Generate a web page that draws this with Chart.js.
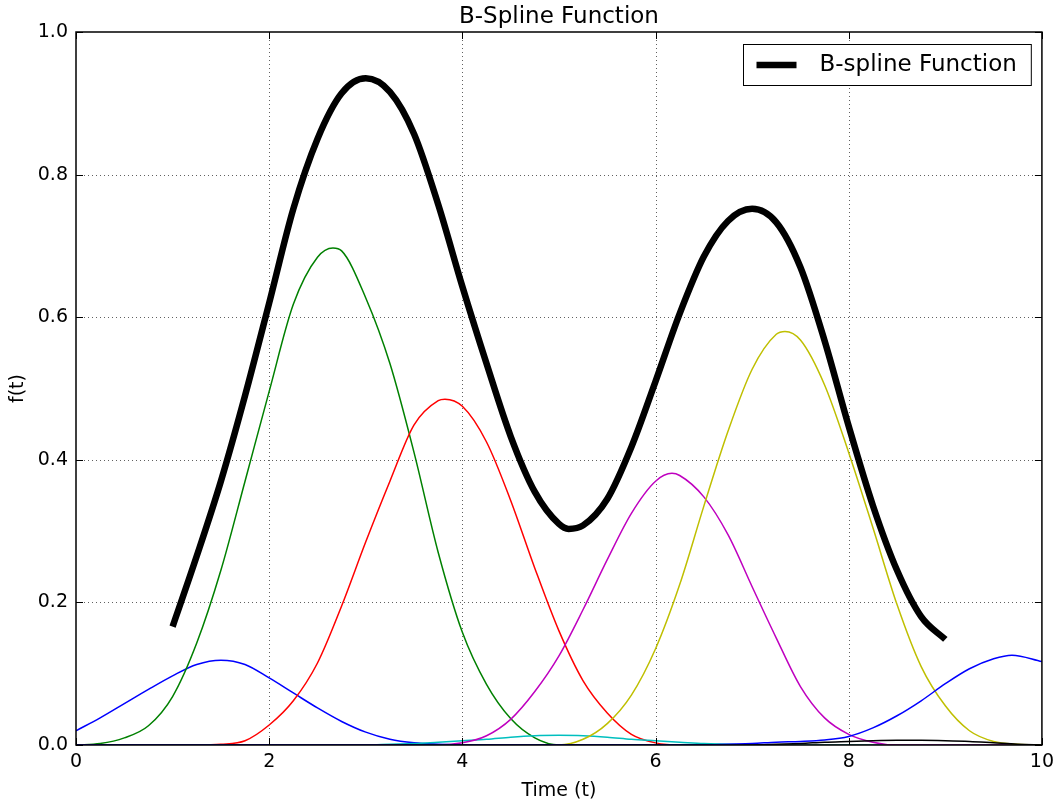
<!DOCTYPE html>
<html>
<head>
<meta charset="utf-8">
<title>B-Spline Function</title>
<script src="https://cdn.jsdelivr.net/npm/chart.js@4.4.1/dist/chart.umd.min.js"></script>
<style>
  html, body { margin: 0; padding: 0; background: #ffffff; }
  canvas { display: block; }
</style>
</head>
<body>
<canvas id="chart" width="1060" height="808"></canvas>
<script>
// Weighted basis functions: sample times and values for each curve
const blueATime = [0, 0.25, 0.5, 0.75, 1, 1.25, 1.5, 1.75, 2, 2.25, 2.5, 2.75, 3, 3.25, 3.5, 3.75, 4, 10];
const blueAValues = [0.020, 0.038, 0.058, 0.078, 0.097, 0.113, 0.119, 0.113, 0.094, 0.073, 0.052, 0.033, 0.018, 0.008, 0.003, 0.001, 0, 0];

const greenTime = [0, 0.25, 0.5, 0.75, 1, 1.25, 1.5, 1.75, 2, 2.25, 2.5, 2.66, 2.75, 3, 3.25, 3.5, 3.75, 4, 4.25, 4.5, 4.75, 5, 10];
const greenValues = [0, 0.002, 0.010, 0.027, 0.068, 0.143, 0.245, 0.370, 0.496, 0.618, 0.684, 0.697, 0.693, 0.627, 0.535, 0.410, 0.270, 0.158, 0.085, 0.037, 0.010, 0, 0];

const redTime = [0, 1.25, 1.5, 1.75, 2, 2.25, 2.5, 2.75, 3, 3.25, 3.5, 3.75, 3.82, 4, 4.25, 4.5, 4.75, 5, 5.25, 5.5, 5.75, 6, 6.25, 10];
const redValues = [0, 0, 0.001, 0.006, 0.028, 0.062, 0.115, 0.195, 0.285, 0.370, 0.449, 0.483, 0.485, 0.475, 0.425, 0.343, 0.248, 0.160, 0.090, 0.045, 0.015, 0.003, 0, 0];

const cyanTime = [0, 3, 3.25, 3.5, 3.75, 4, 4.25, 4.5, 4.75, 5, 5.25, 5.5, 5.75, 6, 6.25, 6.5, 6.75, 7, 10];
const cyanValues = [0, 0, 0.001, 0.002, 0.004, 0.006, 0.008, 0.011, 0.013, 0.0135, 0.013, 0.011, 0.008, 0.006, 0.004, 0.002, 0.001, 0, 0];

const magentaTime = [0, 3.75, 4, 4.25, 4.5, 4.75, 5, 5.25, 5.5, 5.75, 6, 6.17, 6.25, 6.5, 6.75, 7, 7.25, 7.5, 7.75, 8, 8.25, 8.5, 10];
const magentaValues = [0, 0, 0.003, 0.013, 0.036, 0.075, 0.125, 0.190, 0.260, 0.325, 0.370, 0.381, 0.378, 0.348, 0.295, 0.222, 0.150, 0.082, 0.038, 0.015, 0.004, 0, 0];

const yellowTime = [0, 5, 5.25, 5.5, 5.75, 6, 6.25, 6.5, 6.75, 7, 7.25, 7.34, 7.5, 7.75, 8, 8.25, 8.5, 8.75, 9, 9.25, 9.5, 9.75, 10];
const yellowValues = [0, 0, 0.008, 0.030, 0.070, 0.135, 0.225, 0.335, 0.440, 0.527, 0.576, 0.580, 0.568, 0.505, 0.410, 0.305, 0.197, 0.110, 0.055, 0.020, 0.005, 0.001, 0];

const blackTime = [0, 7, 7.25, 7.5, 7.75, 8, 8.25, 8.5, 8.75, 9, 9.25, 9.5, 9.75, 10];
const blackValues = [0, 0, 0.001, 0.002, 0.004, 0.005, 0.006, 0.0065, 0.0065, 0.006, 0.005, 0.003, 0.001, 0];

const blueBTime = [0, 6.5, 6.75, 7, 7.25, 7.5, 7.75, 8, 8.25, 8.5, 8.75, 9, 9.25, 9.5, 9.69, 10];
const blueBValues = [0, 0, 0.001, 0.002, 0.004, 0.005, 0.007, 0.012, 0.024, 0.041, 0.062, 0.086, 0.107, 0.121, 0.126, 0.117];

// Summed spline, evaluated on [1, 9]
const splineTime = [1, 1.25, 1.5, 1.75, 2, 2.25, 2.5, 2.75, 3, 3.25, 3.5, 3.75, 4, 4.25, 4.5, 4.75,
  5, 5.1, 5.25, 5.5, 5.75, 6, 6.25, 6.5, 6.75, 7, 7.25, 7.5, 7.75, 8, 8.25, 8.5, 8.75, 9];
const splineValues = [0.166, 0.265, 0.370, 0.490, 0.620, 0.752, 0.850, 0.914, 0.935, 0.916, 0.857, 0.758,
  0.643, 0.535, 0.433, 0.355, 0.310, 0.303, 0.308, 0.345, 0.418, 0.510, 0.605, 0.685, 0.735, 0.752, 0.733,
  0.670, 0.567, 0.447, 0.336, 0.245, 0.180, 0.148];

// Axis ticks
const xTickValues = [0, 2, 4, 6, 8, 10];
const yTickValues = [0, 0.2, 0.4, 0.6, 0.8, 1.0];

const FONT_FAMILY = '"DejaVu Sans", "Liberation Sans", sans-serif';
const TITLE_TEXT = 'B-Spline Function';

function points(xs, ys) {
  return xs.map((t, i) => ({ x: t, y: ys[i] }));
}

function basisSet(times, values, color) {
  return {
    data: points(times, values),
    borderColor: color,
    borderWidth: 1.5,
    pointRadius: 0,
    cubicInterpolationMode: 'monotone',
    fill: false
  };
}

// Title over the axes, frame, dotted grid, inward ticks and the boxed legend
const axesDecor = {
  id: 'axesDecor',
  beforeDatasetsDraw(chart) {
    const { ctx, chartArea: a, scales: { x, y } } = chart;
    ctx.save();
    ctx.strokeStyle = 'rgba(0,0,0,0.62)';
    ctx.lineWidth = 1;
    ctx.setLineDash([1, 3]);
    xTickValues.forEach(v => {
      if (v <= x.min || v >= x.max) return;
      const px = Math.round(x.getPixelForValue(v)) + 0.5;
      ctx.beginPath(); ctx.moveTo(px, a.top); ctx.lineTo(px, a.bottom); ctx.stroke();
    });
    yTickValues.forEach(v => {
      if (v <= y.min || v >= y.max) return;
      const py = Math.round(y.getPixelForValue(v)) + 0.5;
      ctx.beginPath(); ctx.moveTo(a.left, py); ctx.lineTo(a.right, py); ctx.stroke();
    });
    ctx.restore();
  },
  afterDatasetsDraw(chart) {
    const { ctx, chartArea: a, scales: { x, y } } = chart;
    ctx.save();
    ctx.strokeStyle = '#000000';
    ctx.setLineDash([]);
    // spines
    ctx.lineWidth = 1.5;
    ctx.strokeRect(a.left, a.top, a.right - a.left, a.bottom - a.top);
    // inward tick marks on all four sides
    const len = 7;
    ctx.lineWidth = 1;
    xTickValues.forEach(v => {
      const px = Math.round(x.getPixelForValue(v)) + 0.5;
      ctx.beginPath(); ctx.moveTo(px, a.bottom); ctx.lineTo(px, a.bottom - len); ctx.stroke();
      ctx.beginPath(); ctx.moveTo(px, a.top); ctx.lineTo(px, a.top + len); ctx.stroke();
    });
    yTickValues.forEach(v => {
      const py = Math.round(y.getPixelForValue(v)) + 0.5;
      ctx.beginPath(); ctx.moveTo(a.left, py); ctx.lineTo(a.left + len, py); ctx.stroke();
      ctx.beginPath(); ctx.moveTo(a.right, py); ctx.lineTo(a.right - len, py); ctx.stroke();
    });

    // title, centred over the plotting area
    ctx.fillStyle = '#000000';
    ctx.font = '23px ' + FONT_FAMILY;
    ctx.textAlign = 'center';
    ctx.textBaseline = 'middle';
    ctx.fillText(TITLE_TEXT, (a.left + a.right) / 2, a.top - 15);

    // legend box in the upper right corner
    const ds = chart.data.datasets[0];
    ctx.font = '23px ' + FONT_FAMILY;
    const textW = ctx.measureText(ds.label).width;
    const padL = 13, lineLen = 40, gap = 23, padR = 14.5, boxH = 41;
    const boxW = padL + lineLen + gap + textW + padR;
    const bx = Math.round(a.right - 11 - boxW) + 0.5;
    const by = Math.round(a.top + 12) + 0.5;
    ctx.fillStyle = '#ffffff';
    ctx.fillRect(bx, by, boxW, boxH);
    ctx.lineWidth = 1;
    ctx.strokeRect(bx, by, boxW, boxH);
    const cy = by + boxH / 2;
    ctx.beginPath();
    ctx.lineWidth = ds.borderWidth;
    ctx.strokeStyle = ds.borderColor;
    ctx.moveTo(bx + padL, cy);
    ctx.lineTo(bx + padL + lineLen, cy);
    ctx.stroke();
    ctx.fillStyle = '#000000';
    ctx.textBaseline = 'middle';
    ctx.textAlign = 'left';
    ctx.fillText(ds.label, bx + padL + lineLen + gap, cy);
    ctx.restore();
  }
};

new Chart(document.getElementById('chart'), {
  type: 'line',
  data: {
    datasets: [
      {
        label: 'B-spline Function',
        data: points(splineTime, splineValues),
        borderColor: '#000000',
        borderWidth: 6.5,
        borderCapStyle: 'butt',
        borderJoinStyle: 'round',
        pointRadius: 0,
        cubicInterpolationMode: 'monotone',
        fill: false
      },
      basisSet(blueBTime, blueBValues, '#0000ff'),
      basisSet(blackTime, blackValues, '#000000'),
      basisSet(yellowTime, yellowValues, '#bfbf00'),
      basisSet(magentaTime, magentaValues, '#bf00bf'),
      basisSet(cyanTime, cyanValues, '#00bfbf'),
      basisSet(redTime, redValues, '#ff0000'),
      basisSet(greenTime, greenValues, '#008000'),
      basisSet(blueATime, blueAValues, '#0000ff')
    ]
  },
  options: {
    responsive: false,
    animation: false,
    events: [],
    layout: { padding: { left: 0, right: 16, top: 32, bottom: 0 } },
    plugins: {
      legend: { display: false },
      tooltip: { enabled: false },
      title: { display: false }
    },
    scales: {
      x: {
        type: 'linear',
        position: 'bottom',
        min: 0,
        max: 10,
        grid: { display: false, drawTicks: false },
        border: { display: false },
        afterBuildTicks: s => { s.ticks = xTickValues.map(v => ({ value: v })); },
        afterFit: s => { s.height = 63; },
        ticks: {
          color: '#000000',
          padding: 6,
          maxRotation: 0,
          autoSkip: false,
          font: { family: FONT_FAMILY, size: 19 },
          callback: v => String(v)
        },
        title: {
          display: true,
          text: 'Time (t)',
          color: '#000000',
          font: { family: FONT_FAMILY, size: 19, lineHeight: 1.2 },
          padding: { top: 0, bottom: 5.6 }
        }
      },
      y: {
        type: 'linear',
        position: 'left',
        min: 0,
        max: 1,
        grid: { display: false, drawTicks: false },
        border: { display: false },
        afterBuildTicks: s => { s.ticks = yTickValues.map(v => ({ value: v })); },
        afterFit: s => { s.width = 76; },
        ticks: {
          color: '#000000',
          padding: 8,
          autoSkip: false,
          font: { family: FONT_FAMILY, size: 19 },
          callback: v => Number(v).toFixed(1)
        },
        title: {
          display: true,
          text: 'f(t)',
          color: '#000000',
          font: { family: FONT_FAMILY, size: 19, lineHeight: 1.2 },
          padding: { top: 6.5, bottom: 0 }
        }
      }
    }
  },
  plugins: [axesDecor]
});
</script>
</body>
</html>
